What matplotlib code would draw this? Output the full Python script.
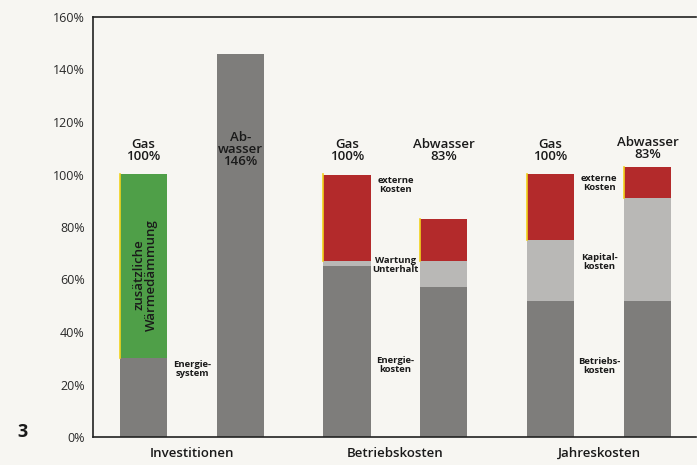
import matplotlib
matplotlib.use("Agg")
import matplotlib.pyplot as plt
import numpy as np

plt.rcParams["font.family"] = ["Open Sans", "DejaVu Sans"]

# Data
positions = [0, 1, 2.1, 3.1, 4.2, 5.2]
base = [30, 146, 65, 57, 52, 52]          # dark grey (Energie / Betrieb)
middle = [0, 0, 2, 10, 23, 39]            # light grey (Wartung / Kapital)
top = [70, 0, 33, 16, 25, 12]             # green (Wärmedämmung) / red (externe Kosten)
top_colors = ["#4f9f48", "#b32a2b", "#b32a2b", "#b32a2b", "#b32a2b", "#b32a2b"]
bar_labels = ["Gas\n100%", None, "Gas\n100%", "Abwasser\n83%", "Gas\n100%", "Abwasser\n83%"]
label_y = [104.3, None, 104.3, 104.3, 104.3, 105.3]
group_labels = ["Investitionen", "Betriebskosten", "Jahreskosten"]
yticks = [0, 20, 40, 60, 80, 100, 120, 140, 160]

bg = "#f7f6f2"
dark = "#7e7d7b"
light = "#b9b8b6"
txt = "#1a1a1a"

fig = plt.figure(figsize=(6.97, 4.65), dpi=100, facecolor=bg)
ax = fig.add_axes([93/697, 28/465, 603/697, 420/465])
ax.set_facecolor(bg)

w = 0.485
for i, x in enumerate(positions):
    ax.bar(x, base[i], width=w, color=dark, linewidth=0, zorder=2)
    if middle[i] > 0:
        ax.bar(x, middle[i], bottom=base[i], width=w, color=light, linewidth=0, zorder=2)
    if top[i] > 0:
        b = base[i] + middle[i]
        ax.bar(x, top[i], bottom=b, width=w, color=top_colors[i], linewidth=0, zorder=2)
        ax.plot([x - w/2, x - w/2], [b, b + top[i]], color="#f2d21b", lw=1.2, zorder=3)
    if bar_labels[i]:
        ax.text(x, label_y[i], bar_labels[i], ha="center", va="bottom",
                fontsize=9.5, linespacing=0.9, color=txt, fontweight="semibold")

# Label inside tall bar
ax.text(positions[1], 109.5, "Ab-\nwasser\n146%", ha="center", va="center",
        fontsize=9.5, linespacing=0.9, color=txt, zorder=4, fontweight="semibold")

# Vertical text in green segment
ax.text(positions[0] + 0.02, 61.7, "zusätzliche\nWärmedämmung", rotation=90,
        ha="center", va="center", fontsize=9.5, linespacing=0.9, color=txt,
        zorder=4, fontweight="semibold")

# Side annotations
small = dict(ha="center", va="center", fontsize=6.8, linespacing=0.95, color=txt,
             fontweight="bold")
mid1 = (positions[0] + positions[1]) / 2
mid2 = (positions[2] + positions[3]) / 2
mid3 = (positions[4] + positions[5]) / 2
ax.text(mid1, 26, "Energie-\nsystem", **small)
ax.text(mid2, 96, "externe\nKosten", **small)
ax.text(mid2, 65.5, "Wartung\nUnterhalt", **small)
ax.text(mid2, 27.5, "Energie-\nkosten", **small)
ax.text(mid3, 96.8, "externe\nKosten", **small)
ax.text(mid3, 66.7, "Kapital-\nkosten", **small)
ax.text(mid3, 27, "Betriebs-\nkosten", **small)

ax.set_xlim(-0.52, 5.70)
ax.set_ylim(0, 160)
ax.set_yticks(yticks)
ax.set_yticklabels([f"{v}%" for v in yticks], fontsize=9, color="#2a2a2a")
ax.tick_params(axis="y", length=0, pad=6)
ax.set_xticks([mid1, mid2, mid3])
ax.set_xticklabels(group_labels, fontsize=9.5, color=txt, fontweight="semibold")
ax.tick_params(axis="x", length=0, pad=7)

for s in ["left", "top", "bottom"]:
    ax.spines[s].set_color("#222222")
    ax.spines[s].set_linewidth(1.2)
ax.spines["right"].set_visible(False)

fig.text(17/697, 1 - 432/465, "3", fontsize=13, fontweight="bold", ha="left",
         va="center", color=txt)

fig.savefig("out.png", dpi=100, facecolor=bg)
